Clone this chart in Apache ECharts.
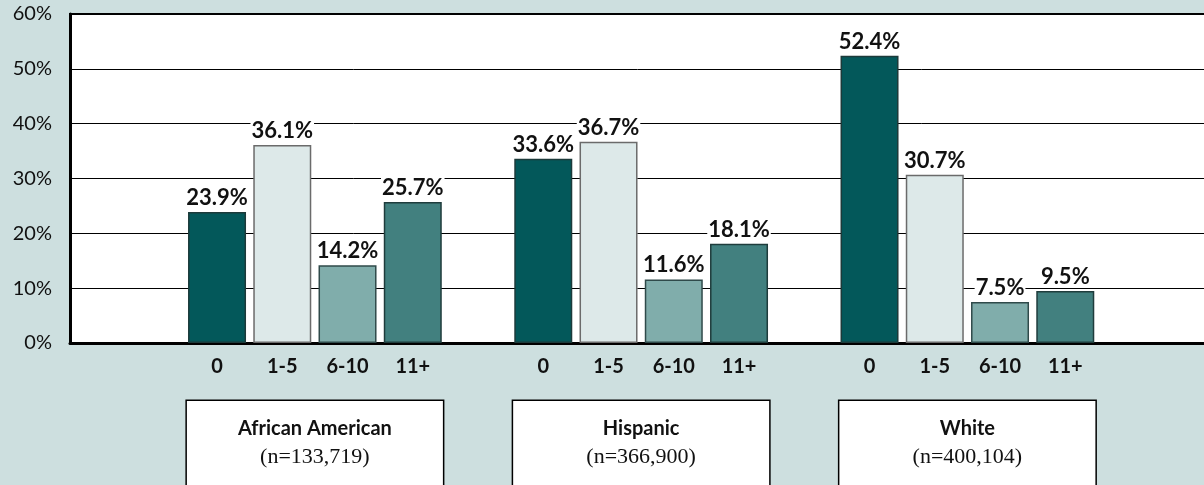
<!DOCTYPE html>
<html><head><meta charset="utf-8">
<script src="https://cdn.jsdelivr.net/npm/echarts@6/dist/echarts.min.js"></script>
<style>html,body{margin:0;padding:0;background:#cddfdf}#c{width:1204px;height:485px}</style>
</head><body><div id="c"></div>
<script>
const buckets = ['0', '1-5', '6-10', '11+'];
const groups = ['African American', 'Hispanic', 'White'];
const groupN = ['(n=133,719)', '(n=366,900)', '(n=400,104)'];
const vals0 = [23.9, 33.6, 52.4];
const vals1to5 = [36.1, 36.7, 30.7];
const vals6to10 = [14.2, 11.6, 7.5];
const vals11plus = [25.7, 18.1, 9.5];
const yTicks = [0, 10, 20, 30, 40, 50, 60];

const seriesVals = [vals0, vals1to5, vals6to10, vals11plus];
const fills = ['#03585a', '#dde9e9', '#80adab', '#42807f'];
const borders = ['#1c3a3a', '#6b6b6b', '#2f4a4a', '#1f3c3c'];

// 14 slots: 4 bars, 1 gap, 4 bars, 1 gap, 4 bars
const slotLabels = [];
groups.forEach((g, gi) => {
  buckets.forEach(b => slotLabels.push(b));
  if (gi < groups.length - 1) slotLabels.push('');
});
function slotData(vals) {
  const out = [];
  vals.forEach((v, gi) => {
    for (let k = 0; k < 4; k++) out.push(null);
    if (gi < vals.length - 1) out.push(null);
  });
  return out;
}
const series = seriesVals.map((vals, k) => {
  const d = slotData(vals);
  vals.forEach((v, gi) => { d[gi * 5 + k] = v; });
  return {
    type: 'bar', xAxisIndex: 1, yAxisIndex: 1, data: d,
    barWidth: 58, barGap: '-100%',
    itemStyle: { color: fills[k], borderColor: borders[k], borderWidth: 1.5 },
    label: {
      show: true, position: 'top', distance: 3,
      formatter: p => p.value == null ? '' : p.value.toFixed(1) + '%',
      fontFamily: 'Lato', fontWeight: 'bold', fontSize: 22, color: '#111',
      backgroundColor: '#fff', padding: [1, 1, 0, 1]
    }
  };
});

const slot = 65.25;
const bLeft = 184.4;
const chart = echarts.init(document.getElementById('c'));
chart.setOption({
  backgroundColor: '#cddfdf',
  animation: false,
  grid: [
    { left: 70, right: -10, top: 14, bottom: 142, outerBoundsMode: 'none', containLabel: false,
      show: true, backgroundColor: '#fff', borderColor: '#000', borderWidth: 2 },
    { left: bLeft, width: slot * 14, top: 14, bottom: 142, outerBoundsMode: 'none', containLabel: false },
    { left: bLeft + slot * 2 - slot * 2.5, width: slot * 15, top: 14, bottom: 142, outerBoundsMode: 'none', containLabel: false }
  ],
  xAxis: [
    { gridIndex: 0, type: 'value', min: 0, max: 1, axisLabel: { show: false }, axisTick: { show: false }, splitLine: { show: false },
      axisLine: { show: true, lineStyle: { color: '#000', width: 3 } } },
    { gridIndex: 1, type: 'category', data: slotLabels, axisLine: { show: false }, axisTick: { show: false },
      axisLabel: { interval: 0, margin: 14, fontFamily: 'Lato', fontWeight: 'bold', fontSize: 20, color: '#111' } },
    { gridIndex: 2, type: 'category', data: groups, axisLine: { show: false }, axisTick: { show: false },
      axisLabel: {
        interval: 0, margin: 58, verticalAlign: 'top',
        formatter: (v, i) => '{a|' + v + '}\n{b|' + groupN[i] + '}',
        backgroundColor: '#fff', borderColor: '#000', borderWidth: 1.5,
        width: 256, padding: [13, 0, 40, 0], align: 'center',
        rich: {
          a: { fontFamily: 'Lato', fontWeight: 'bold', fontSize: 20, lineHeight: 29, color: '#111', align: 'center' },
          b: { fontFamily: 'Liberation Serif', fontSize: 22, lineHeight: 29, color: '#111', align: 'center' }
        }
      } }
  ],
  yAxis: [
    { gridIndex: 0, type: 'value', min: yTicks[0], max: yTicks[yTicks.length - 1], interval: 10,
      axisLine: { show: true, lineStyle: { color: '#000', width: 3 } }, axisTick: { show: false },
      axisLabel: { formatter: '{value}%', margin: 18, fontFamily: 'Lato', fontSize: 20, color: '#111' },
      splitLine: { show: true, lineStyle: { color: '#000', width: 1 } } },
    { gridIndex: 1, type: 'value', min: 0, max: 60, show: false },
    { gridIndex: 2, type: 'value', min: 0, max: 60, show: false }
  ],
  series: series
});
</script></body></html>
